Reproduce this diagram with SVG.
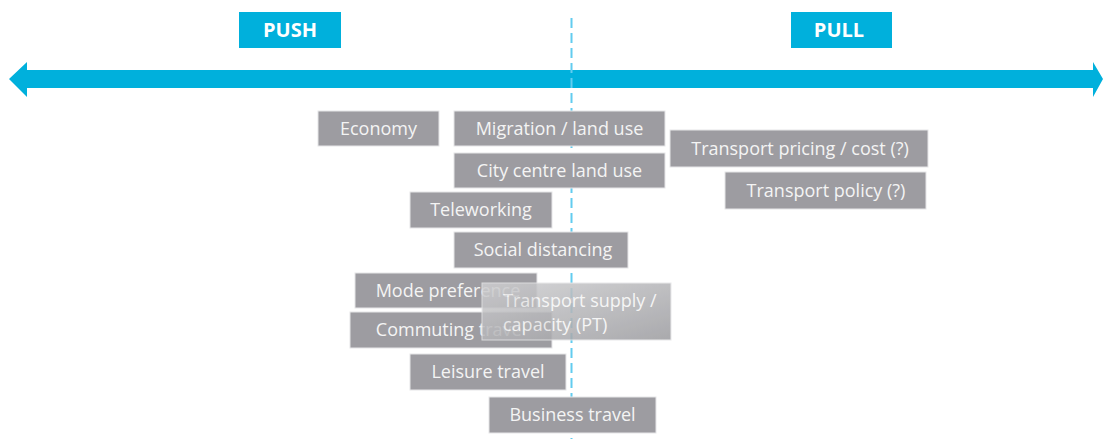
<svg xmlns="http://www.w3.org/2000/svg" width="1104" height="439" viewBox="0 0 1104 439">
<style>
.hdr{fill:#00b0dc}
.hdrt{fill:#ffffff;font-family:"Open Sans","Liberation Sans",sans-serif;font-weight:bold;font-size:20px;text-anchor:middle}
.box{fill:#9d9ca1;stroke:#e6e6e8;stroke-width:1}
.t{fill:#f4f4f4;font-family:"Open Sans","Liberation Sans",sans-serif;font-size:18px;text-anchor:middle}
</style>
<defs>
<linearGradient id="sg" x1="0" y1="0" x2="1" y2="1">
<stop offset="0" stop-color="#cfcfd1"/>
<stop offset="1" stop-color="#9b9b9f"/>
</linearGradient>
</defs>
<rect width="1104" height="439" fill="#ffffff"/>
<g id="axis">
<polygon class="hdr" points="9,79 27,62 27,70 1093,70 1093,62 1103,79 1093,97 1093,88 27,88 27,97"/>
</g>
<g id="connectors">
<line x1="571.5" y1="18" x2="571.5" y2="439" stroke="#62ccef" stroke-width="2" stroke-dasharray="10,5"/>
</g>
<g id="push"><rect class="hdr" x="239" y="12" width="102" height="36"/><text class="hdrt" x="290" y="37">PUSH</text></g>
<g id="pull"><rect class="hdr" x="791" y="12" width="101" height="36"/><text class="hdrt" x="839" y="37">PULL</text></g>
<g id="economy"><rect class="box" x="318" y="111" width="121" height="35"/><text class="t" x="378.5" y="135">Economy</text></g>
<g id="migration"><rect class="box" x="454" y="111" width="211" height="35"/><text class="t" x="559.5" y="135">Migration / land use</text></g>
<g id="citycentre"><rect class="box" x="454" y="153" width="211" height="35"/><text class="t" x="559.5" y="177">City centre land use</text></g>
<g id="pricing"><rect class="box" x="670" y="130" width="258" height="37"/><text class="t" x="800" y="155">Transport pricing / cost (?)</text></g>
<g id="policy"><rect class="box" x="725" y="172" width="201" height="37"/><text class="t" x="826" y="197">Transport policy (?)</text></g>
<g id="teleworking"><rect class="box" x="410" y="192" width="142" height="36"/><text class="t" x="481" y="216">Teleworking</text></g>
<g id="social"><rect class="box" x="454" y="232" width="174" height="36"/><text class="t" x="543" y="256">Social distancing</text></g>
<g id="mode"><rect class="box" x="355" y="273" width="182" height="35"/><text class="t" x="448" y="297">Mode preference</text></g>
<g id="commuting"><rect class="box" x="350" y="312" width="202" height="36"/><text class="t" x="451" y="336">Commuting travel</text></g>
<g id="leisure"><rect class="box" x="410" y="354" width="156" height="36"/><text class="t" x="488" y="378">Leisure travel</text></g>
<g id="business"><rect class="box" x="489" y="397" width="167" height="36"/><text class="t" x="572.5" y="421">Business travel</text></g>
<g id="supply" opacity="0.85">
<rect x="482" y="283" width="189" height="57" fill="url(#sg)" stroke="#e6e6e8" stroke-width="1"/>
<text class="t" x="503" y="307" style="text-anchor:start">Transport supply /</text>
<text class="t" x="503" y="331" style="text-anchor:start">capacity (PT)</text>
</g>
</svg>
